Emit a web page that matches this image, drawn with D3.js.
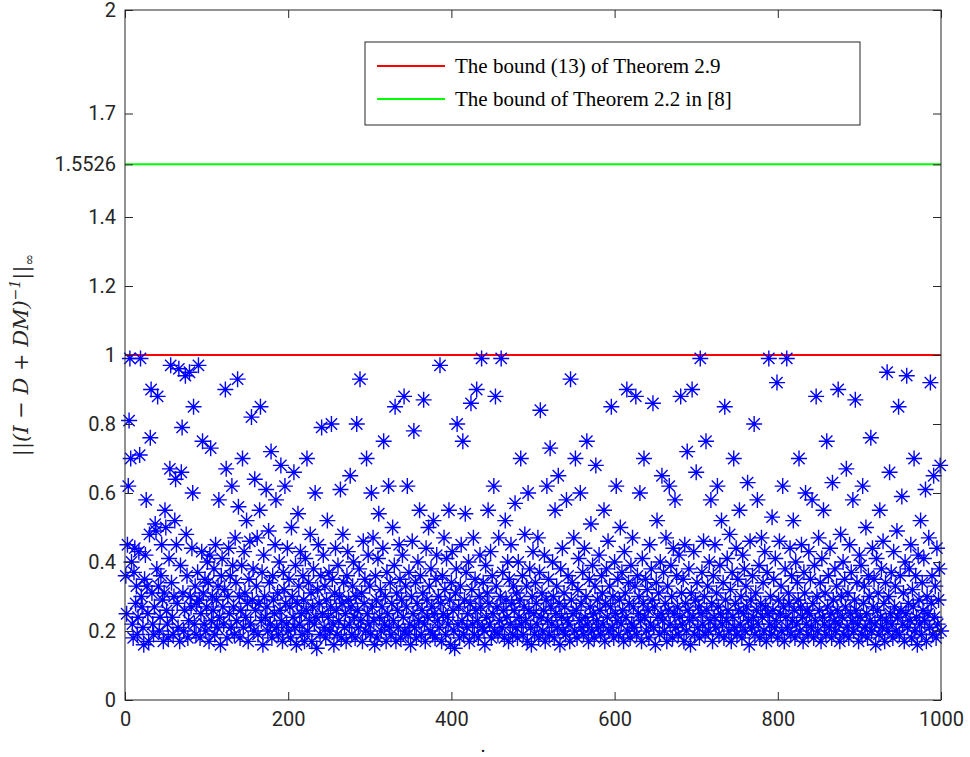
<!DOCTYPE html>
<html>
<head>
<script src="https://cdn.jsdelivr.net/npm/d3@7"></script>
<style>
body{margin:0;background:#fff;}
.tick text{font-family:Roboto,"Liberation Sans",sans-serif;}
</style>
</head>
<body>
<svg id="chart" width="970" height="757"></svg>
<script>
// values in hundredths, one per index 1..1000
var ptsHundredths = [
36,25,45,62,81,99,70,40,22,18,37,44,28,33,19,24,43,71,99,30,
27,21,16,35,42,58,33,25,17,48,76,90,31,22,19,27,51,49,38,88,
33,20,24,36,45,29,17,31,55,50,26,22,18,41,67,97,34,24,19,30,
52,64,45,28,21,96,17,39,66,79,31,20,26,94,48,36,18,23,95,30,
27,44,60,85,22,33,19,28,37,97,29,18,25,43,75,31,22,35,20,27,
40,34,17,42,73,23,30,26,38,19,45,29,21,33,58,24,16,36,41,27,
22,32,90,67,18,30,44,25,36,21,62,39,27,19,47,34,23,93,56,30,
18,26,39,70,21,43,31,24,52,28,17,35,46,22,82,29,38,20,64,26,
33,47,19,28,55,85,23,37,16,42,30,24,61,27,20,49,34,22,72,18,
36,29,25,45,58,21,31,19,40,26,68,23,17,37,32,62,28,22,44,20,
35,27,18,50,30,24,66,21,39,16,28,54,33,22,43,25,19,36,29,17,
41,26,70,20,34,23,48,31,17,27,38,22,60,24,15,32,45,28,19,36,
79,25,42,21,33,18,29,52,24,37,20,27,80,35,22,16,31,44,26,19,
39,23,30,61,18,28,48,34,21,25,17,36,43,29,22,65,27,19,33,40,
24,18,30,80,26,21,38,93,23,31,17,46,28,35,20,70,25,42,22,33,
19,60,27,47,23,16,36,29,18,41,54,24,32,20,27,44,75,22,30,17,
37,25,62,21,34,19,28,50,23,39,85,17,31,26,21,45,35,18,29,42,
24,88,20,33,27,62,19,37,22,16,30,46,25,78,21,34,18,28,40,23,
55,36,19,26,31,87,22,17,44,29,24,50,33,20,38,27,19,52,25,18,
35,42,23,30,21,97,28,17,36,25,47,32,19,41,24,22,55,29,16,34,
43,26,20,15,31,38,80,22,27,18,33,45,23,75,19,29,54,37,21,25,
40,17,28,86,32,22,47,19,35,26,90,23,18,30,42,27,99,21,34,20,
16,39,24,31,55,28,22,43,18,36,25,62,20,88,33,27,19,47,23,30,
99,21,37,26,18,52,29,24,40,17,35,22,45,28,19,33,26,57,21,31,
18,40,24,29,70,22,36,19,27,48,23,33,17,60,26,38,21,16,30,43,
25,19,34,28,22,47,18,37,84,24,31,20,26,42,17,29,62,23,35,19,
73,27,22,40,30,18,55,25,33,21,65,28,16,38,24,44,20,31,27,19,
58,23,36,22,17,93,29,34,25,47,20,70,26,18,32,41,23,60,28,21,
37,19,44,24,30,75,22,17,35,27,51,20,39,25,18,33,68,23,29,21,
42,26,19,36,31,22,55,17,28,38,24,46,20,33,27,85,21,30,18,40,
25,62,23,35,19,29,50,22,37,26,17,43,31,24,90,20,34,28,18,39,
22,47,27,21,33,88,19,36,25,30,60,23,17,41,28,70,24,35,20,32,
26,18,45,22,38,29,86,21,27,16,34,52,24,31,19,40,25,65,23,37,
20,28,47,17,33,26,62,22,39,30,18,44,25,58,21,36,27,19,42,24,
88,31,22,35,17,45,28,20,72,26,38,23,16,31,90,24,43,19,29,66,
34,21,27,18,99,25,37,22,46,30,19,75,26,33,20,40,23,58,28,17,
36,24,45,21,31,62,27,19,39,25,52,22,34,18,85,29,23,41,26,20,
48,32,17,37,24,70,21,28,44,19,35,26,55,22,30,18,42,25,38,20,
33,27,63,23,16,46,29,21,36,24,80,19,31,26,58,22,39,18,28,47,
24,34,20,43,27,17,37,25,99,22,30,19,53,26,35,21,41,23,92,18,
29,46,25,33,20,62,27,17,38,24,99,21,31,28,44,19,36,23,52,26,
18,40,22,34,29,70,20,27,45,24,17,37,31,60,22,26,19,43,25,35,
21,58,28,18,39,23,88,30,20,47,26,34,17,41,24,55,22,31,19,75,
27,36,21,44,25,18,63,29,23,38,20,33,26,90,22,17,48,30,24,40,
19,35,27,67,21,31,18,45,25,37,23,58,20,29,87,26,34,22,17,42,
24,39,19,62,28,33,21,50,25,18,36,30,23,76,20,44,27,35,22,16,
41,26,31,19,55,24,38,21,46,28,17,34,23,95,20,30,66,25,37,22,
18,43,27,33,20,49,24,85,19,36,26,59,22,31,17,40,25,94,21,28,
38,23,45,18,32,27,70,20,36,24,16,42,29,22,52,19,34,26,41,23,
61,17,30,25,47,21,92,28,36,19,65,24,33,18,44,22,29,38,68,20
];

var margin = {left:125, top:10, right:29, bottom:57};
var W = 970, H = 757;
var pw = W - margin.left - margin.right, ph = H - margin.top - margin.bottom;

var xTicks = [0,200,400,600,800,1000];
var yTicks = [0,0.2,0.4,0.6,0.8,1,1.2,1.4,1.5526,1.7,2];
var yTickLabels = ["0","0.2","0.4","0.6","0.8","1","1.2","1.4","1.5526","1.7","2"];
var redBound = 1;
var greenBound = 1.5526;
var legendLabels = ["The bound (13) of Theorem 2.9", "The bound of Theorem 2.2 in [8]"];
var legendColors = ["#ff0000", "#00ff00"];

var svg = d3.select('#chart');
var g = svg.append('g').attr('transform', 'translate('+margin.left+','+margin.top+')');
var x = d3.scaleLinear().domain([0,1000]).range([0,pw]);
var y = d3.scaleLinear().domain([0,2]).range([ph,0]);

var pts = ptsHundredths.map(function(v,i){return {x:i+1, y:v/100};});

// bound lines
g.append('line').attr('x1',0).attr('x2',pw).attr('y1',y(redBound)).attr('y2',y(redBound))
	.attr('stroke','#ff0000').attr('stroke-width',2);
g.append('line').attr('x1',0).attr('x2',pw).attr('y1',y(greenBound)).attr('y2',y(greenBound))
	.attr('stroke','#00ff00').attr('stroke-width',2);

// asterisk markers
var r = 8, d2 = r*0.707;
var star = 'M'+(-r)+',0L'+r+',0M0,'+(-r)+'L0,'+r+'M'+(-d2)+','+(-d2)+'L'+d2+','+d2+'M'+(-d2)+','+d2+'L'+d2+','+(-d2);
g.append('g').selectAll('path').data(pts).enter().append('path')
	.attr('d', star)
	.attr('transform', function(d){return 'translate('+x(d.x)+','+y(d.y)+')';})
	.attr('stroke','#0000ff').attr('stroke-width',1.4).attr('fill','none');

// axes
var xAxis = d3.axisBottom(x).tickValues(xTicks).tickFormat(d3.format('d')).tickSizeInner(-8).tickSizeOuter(0).tickPadding(12);
var yAxis = d3.axisLeft(y).tickValues(yTicks).tickFormat(function(d,i){return yTickLabels[i];})
	.tickSizeInner(-8).tickSizeOuter(0).tickPadding(9);
g.append('g').attr('transform','translate(0,'+ph+')').call(xAxis);
g.append('g').call(yAxis);
g.append('g').call(d3.axisTop(x).tickValues(xTicks).tickSize(-8).tickFormat(''));
g.append('g').attr('transform','translate('+pw+',0)').call(d3.axisRight(y).tickValues(yTicks).tickSize(-8).tickFormat(''));
g.selectAll('.domain').remove();
g.selectAll('.tick line').attr('stroke','#262626');
g.selectAll('.tick text').style('font-size','20px').attr('fill','#262626');
g.append('rect').attr('width',pw).attr('height',ph).attr('fill','none').attr('stroke','#262626').attr('stroke-width',1);

// labels
svg.append('text').attr('x',483).attr('y',752).attr('text-anchor','middle').style('font-size','18px').text('.');
svg.append('text').attr('transform','translate(28,'+(margin.top+ph/2)+') rotate(-90)')
	.attr('text-anchor','middle').attr('fill','#262626')
	.style('font-size','21px').style('font-family','"DejaVu Serif",serif').style('font-style','italic')
	.html('||(I − D + DM)<tspan dy="-8" font-size="14">−1</tspan><tspan dy="8">||</tspan><tspan dy="6" font-size="14">∞</tspan>');

// legend
var lg = svg.append('g').attr('transform','translate(365,42)');
lg.append('rect').attr('width',495).attr('height',83).attr('fill','#fff').attr('stroke','#262626');
lg.selectAll('g.item').data(legendLabels).enter().append('g').attr('class','item')
	.attr('transform',function(d,i){return 'translate(0,'+(24+i*33)+')';})
	.each(function(d,i){
		var s = d3.select(this);
		s.append('line').attr('x1',12).attr('x2',80).attr('stroke',legendColors[i]).attr('stroke-width',2);
		s.append('text').attr('x',90).attr('y',7).style('font-size','21px')
			.style('font-family','"Liberation Serif","DejaVu Serif",serif').attr('fill','#000').text(d);
	});
</script>
</body>
</html>
